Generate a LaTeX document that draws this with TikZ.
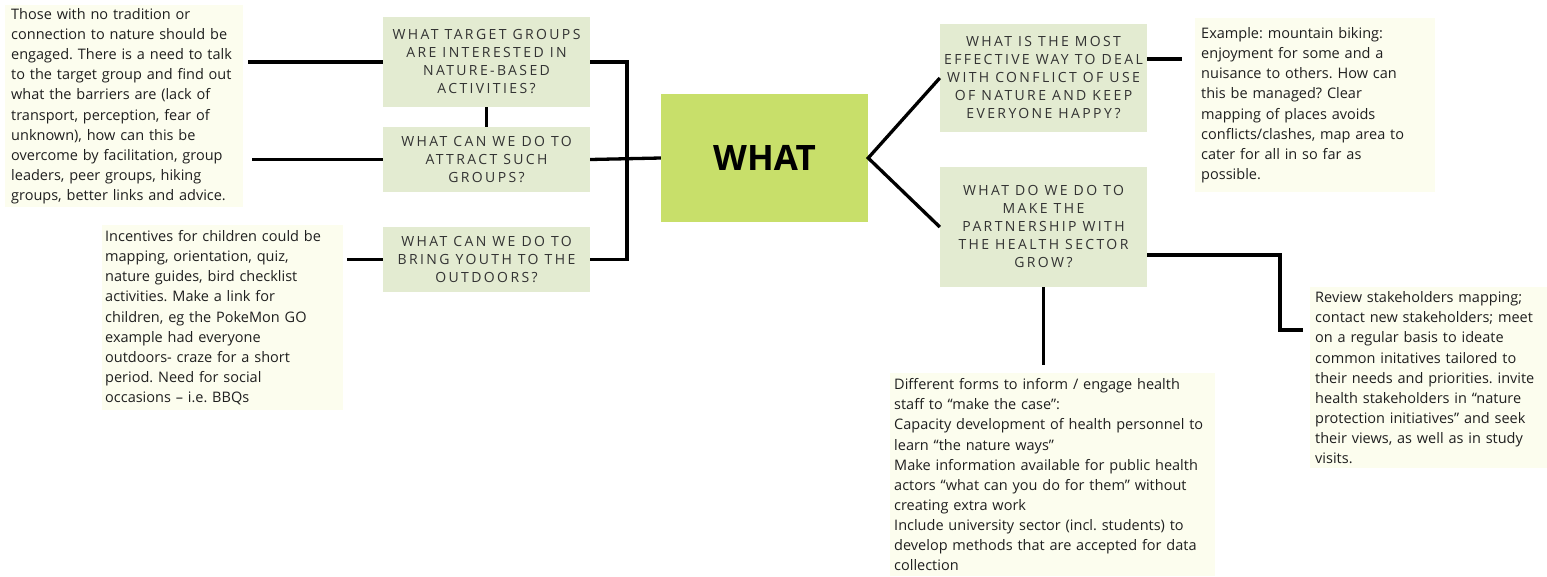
\documentclass[tikz,border=0pt]{standalone}
\usepackage{fontspec}
\setmainfont{Open Sans}
\newfontfamily\askfont{Open Sans}[LetterSpace=17]
\usetikzlibrary{positioning}
\definecolor{notefill}{HTML}{FCFDEE}
\definecolor{askfill}{HTML}{E3EBD1}
\definecolor{hubfill}{HTML}{C8DF6A}
\definecolor{inkgrey}{HTML}{333333}
\frenchspacing
\tikzset{
  note/.style={anchor=north west, fill=notefill, inner xsep=7pt, inner ysep=0pt,
    align=left, text=black!88, font=\fontsize{14.5}{20.1}\selectfont},
  ask/.style={fill=askfill, inner sep=0pt, minimum width=207pt, align=center,
    text=inkgrey, font=\askfont\fontsize{14}{18}\selectfont},
  hub/.style={fill=hubfill, inner sep=0pt, minimum width=207pt, minimum height=128pt,
    font=\bfseries\fontsize{35}{40}\selectfont},
  link/.style={line width=3.3pt}
}
\begin{document}
\begin{tikzpicture}[x=1pt, y=-1pt]
	\useasboundingbox (0,0) rectangle (1547,576);
	
	%%%%% centre %%%%%
	\node[hub] (what) at (764.5,158) {WHAT};
	
	%%%%% questions %%%%%
	\node[ask, minimum height=90pt] (askgroups) at (486.5,62) {WHAT TARGET GROUPS\\ARE INTERESTED IN\\NATURE-BASED\\ACTIVITIES?};
	\node[ask, minimum height=65pt] (askattract) at (486.5,159.5) {WHAT CAN WE DO TO\\ATTRACT SUCH\\GROUPS?};
	\node[ask, minimum height=65pt] (askyouth) at (486.5,259.5) {WHAT CAN WE DO TO\\BRING YOUTH TO THE\\OUTDOORS?};
	\node[ask, minimum height=108pt] (askconflict) at (1043.5,78) {WHAT IS THE MOST\\EFFECTIVE WAY TO DEAL\\WITH CONFLICT OF USE\\OF NATURE AND KEEP\\EVERYONE HAPPY?};
	\node[ask, minimum height=120pt] (askhealth) at (1043.5,227) {WHAT DO WE DO TO\\MAKE THE\\PARTNERSHIP WITH\\THE HEALTH SECTOR\\GROW?};
	
	%%%%% notes %%%%%
	\node[note, minimum width=238pt, minimum height=202pt, text width=226pt, inner xsep=6pt] (notegroups) at (5,5)
		{Those with no tradition or\\connection to nature should be\\engaged. There is a need to talk\\to the target group and find out\\what the barriers are (lack of\\transport, perception, fear of\\unknown), how can this be\\overcome by facilitation, group\\leaders, peer groups, hiking\\groups, better links and advice.};
	\node[note, minimum width=241pt, minimum height=185pt, text width=235pt, inner xsep=3pt] (noteyouth) at (102,225)
		{Incentives for children could be\\mapping, orientation, quiz,\\nature guides, bird checklist\\activities. Make a link for\\children, eg the PokeMon GO\\example had everyone\\outdoors- craze for a short\\period. Need for social\\occasions -- i.e. BBQs};
	\node[note, minimum width=240pt, minimum height=174pt, text width=228pt, inner xsep=6pt] (noteconflict) at (1195,18)
		{Example: mountain biking:\\enjoyment for some and a\\nuisance to others. How can\\this be managed? Clear\\mapping of places avoids\\conflicts/clashes, map area to\\cater for all in so far as\\possible.};
	\node[note, minimum width=237pt, minimum height=181pt, text width=232pt, inner xsep=5pt] (notepartner) at (1310,287)
		{Review stakeholders mapping;\\contact new stakeholders; meet\\on a regular basis to ideate\\common initatives tailored to\\their needs and priorities. invite\\health stakeholders in “nature\\protection initiatives” and seek\\their views, as well as in study\\visits.};
	\node[note, minimum width=325pt, minimum height=203pt, text width=317pt, inner xsep=4pt] (notehealth) at (890,373)
		{Different forms to inform / engage health\\staff to “make the case”:\\\mbox{Capacity development of health personnel to}\\learn “the nature ways”\\\mbox{Make information available for public health}\\\mbox{actors “what can you do for them” without}\\creating extra work\\\mbox{Include university sector (incl. students) to}\\\mbox{develop methods that are accepted for data}\\collection};
	
	%%%%% connectors %%%%%
	\coordinate (bus) at (627,62);
	\coordinate (partnerin) at (1303,330);
	
	\draw[link] ([xshift=5pt]notegroups.east |- askgroups.west) -- (askgroups.west);
	\draw[link] ([xshift=9pt]notegroups.east |- askattract.west) -- (askattract.west);
	\draw[link] ([xshift=4pt]noteyouth.east |- askyouth.west) -- (askyouth.west);
	\draw[link] (askgroups.south) -- (askattract.north);
	
	\draw[link] (askgroups.east) -- (bus) -- (bus |- askyouth.east) -- (askyouth.east);
	\draw[link] (askattract.east) -- (what.west);
	
	\draw[link] (askconflict.west) -- (what.east) -- (askhealth.west);
	\draw[link] ([yshift=19pt]askconflict.east) -- ([xshift=-13pt,yshift=19pt]noteconflict.west |- askconflict.east);
	\draw[link] ([yshift=-28pt]askhealth.east) -| ([xshift=-23pt]partnerin) -- (partnerin);
	\draw[link] (askhealth.south) -- ([yshift=8pt]notehealth.north -| askhealth.south);
	
\end{tikzpicture}
\end{document}
